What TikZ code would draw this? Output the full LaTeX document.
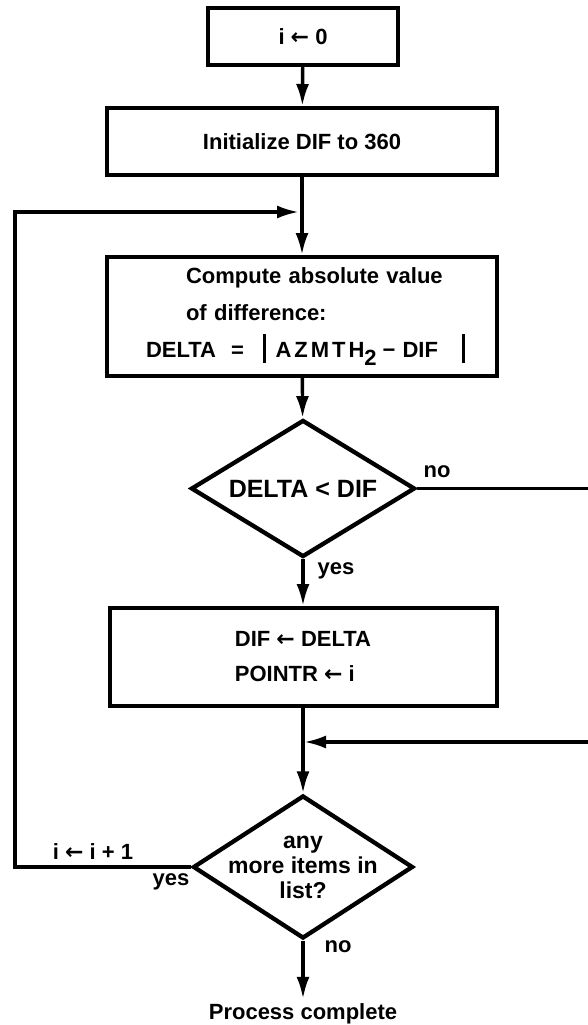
\documentclass[tikz,border=0pt]{standalone}
\usepackage{fontspec}
\setmainfont{Liberation Sans}
\newfontfamily\arrowfont{DejaVu Sans}
\usetikzlibrary{arrows.meta,shapes.geometric}

\newcommand{\absbar}{\rule[-6pt]{2.6pt}{29pt}}
\newcommand{\getsarrow}{{\arrowfont\bfseries ←}}

\begin{document}
\begin{tikzpicture}[x=1pt, y=-1pt, >={Latex[length=22pt,width=13pt]},
    font=\fontsize{22}{26}\selectfont\bfseries,
    box/.style={draw, line width=4pt, inner sep=0pt},
    dec/.style={draw, diamond, line width=4.3pt, inner sep=0pt},
    flow/.style={->, line width=3.4pt},
    wire/.style={line width=3.4pt},
    lbl/.style={font=\fontsize{22}{24}\selectfont\bfseries}]
    \useasboundingbox (0,0) rectangle (588,1025);

    % process boxes
    \node[box, minimum width=190pt, minimum height=57pt] (init0) at (303,36.5) {i \getsarrow\ 0};
    \node[box, minimum width=390pt, minimum height=67pt] (setdif) at (302,141.5) {Initialize DIF to 360};
    \node[box, minimum width=390pt, minimum height=119pt, text width=350pt, align=left,
          font=\fontsize{22}{37}\selectfont\bfseries] (absdiff) at (302,316.5)
        {\hspace*{59pt}Compute absolute value\\
         \hspace*{59pt}of difference:\\
         \hspace*{19pt}DELTA\hspace{15pt}=\hspace{19pt}\absbar\hspace{10pt}A\hspace{3pt}Z\hspace{3pt}M\hspace{3pt}T\hspace{3pt}H\raisebox{-8pt}{2}\hspace{6pt}−\hspace{7pt}DIF\hspace{24pt}\absbar};
    \node[dec, minimum width=224pt, minimum height=137pt] (cmp) at (303,488.5) {};
    \node[font=\fontsize{25}{28}\selectfont\bfseries] (cmptxt) at (cmp)
        {DELTA\hspace{7pt}<\hspace{7pt}DIF};
    \node[box, minimum width=387pt, minimum height=98pt, align=left,
          font=\fontsize{22}{35}\selectfont\bfseries] (update) at (303,657)
        {DIF \getsarrow\ DELTA\\POINTR \getsarrow\ i};
    \node[dec, minimum width=220pt, minimum height=143pt] (more) at (303,867) {};
    \node[align=center, font=\fontsize{23}{25}\selectfont\bfseries] (moretxt) at (more) {any\\more items in\\list?};
    \node[anchor=base, inner sep=0pt] (done) at (303,1019) {Process complete};

    % junctions and edges of the page
    \coordinate (jloop) at (303,212);
    \coordinate (jskip) at (303,742);
    \coordinate (leftx) at (15,0);
    \coordinate (rightx) at (588,0);

    % flow lines
    \draw[flow] (init0) -- (setdif);
    \draw[flow] (setdif) -- (absdiff);
    \draw[flow] (absdiff) -- (cmp);
    \draw[flow] (cmp) -- (update);
    \draw[flow] (update) -- (more);
    \draw[flow, shorten >=4pt] (more) -- (done);
    \draw[flow, shorten >=4pt] (more.west) -| (leftx |- jloop) -- (jloop);
    \draw[wire] (cmp.east) -- (rightx |- cmp.east);
    \draw[flow, shorten >=1pt] (rightx |- jskip) -- (jskip);

    % labels
    \node[lbl] (nocmp) at (437,472) {no};
    \node[lbl] (yescmp) at (336,571) {yes};
    \node[lbl] (incr) at (93,852) {i \getsarrow\ i + 1};
    \node[lbl] (yesmore) at (171,882) {yes};
    \node[lbl] (nomore) at (338,947) {no};
\end{tikzpicture}
\end{document}
